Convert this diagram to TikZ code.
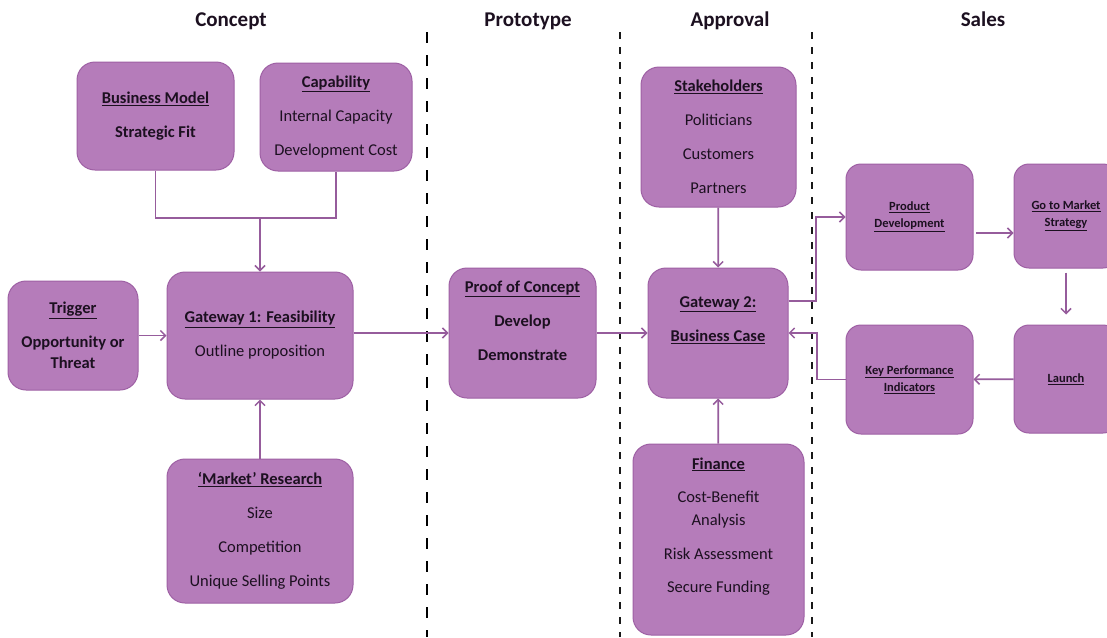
\documentclass[tikz,border=0pt]{standalone}
\usepackage{fontspec}
\setmainfont{Carlito}
\usetikzlibrary{arrows.meta,calc}
\definecolor{boxfill}{RGB}{181,124,186}
\definecolor{boxline}{RGB}{158,96,164}
\definecolor{conn}{RGB}{150,92,156}
\definecolor{txt}{RGB}{28,16,32}
\newcommand{\mainsz}{\fontsize{16.5}{23}\selectfont}
\newcommand{\smallsz}{\fontsize{12.5}{17}\selectfont}
\newcommand{\hd}[1]{\textbf{\underline{#1}}}
\tikzset{
  box/.style={draw=boxline, line width=1pt, fill=boxfill, rounded corners=18pt,
    align=center, text=txt, font=\mainsz, inner sep=0pt},
  sbox/.style={box, rounded corners=15pt, font=\smallsz},
  txtnode/.style={align=center, text=txt, font=\mainsz, inner sep=0pt},
  arr/.style={draw=conn, line width=1.8pt, -{Straight Barb[length=5pt,width=10pt,line width=1.5pt]}},
  conline/.style={draw=conn, line width=1.8pt},
  heading/.style={font=\fontsize{21}{25}\selectfont\bfseries, text=txt, inner sep=0pt, anchor=base},
  phase/.style={line width=2.6pt, dash pattern=on 11pt off 12pt, black},
  phasethin/.style={line width=1.8pt, dash pattern=on 7pt off 8pt, black!90}
}
\begin{document}
\begin{tikzpicture}[x=1pt,y=-1pt]
\useasboundingbox (0,0) rectangle (1107,637);
\clip (0,0) rectangle (1107,637);
\fill[white] (0,0) rectangle (1107,637);

% phase separators
\draw[phase] (427,32) -- (427,637);
\draw[phasethin] (620,32) -- (620,637);
\draw[phasethin] (812,32) -- (812,637);

% headings
\node[heading] (hconcept) at (231,27) {Concept};
\node[heading] (hproto) at (528,27) {Prototype};
\node[heading] (happroval) at (730,27) {Approval};
\node[heading] (hsales) at (983,27) {Sales};

% concept boxes
\node[box, minimum width=157, minimum height=108] (bm) at (155.5,116)
  {\hd{Business Model}\\[11pt]\textbf{Strategic Fit}};
\node[box, minimum width=152, minimum height=108] (cap) at (336,117)
  {\hd{Capability}\\[11pt]Internal Capacity\\[11pt]Development Cost};
\node[box, minimum width=130, minimum height=109] (trig) at (73,335.5)
  {\hd{Trigger}\\[11pt]\textbf{Opportunity or}\\[-2pt]\textbf{Threat}};
\node[box, minimum width=186, minimum height=127] (g1) at (260,335.5)
  {\hd{Gateway 1: Feasibility}\\[11pt]Outline proposition};
\node[box, minimum width=186, minimum height=144] (mr) at (260,531)
  {\hd{‘Market’ Research}\\[11pt]Size\\[11pt]Competition\\[11pt]Unique Selling Points};

% prototype
\node[box, minimum width=147, minimum height=130] (poc) at (522.5,333) {};
\node[txtnode] (poct) at (522.5,320.5)
  {\hd{Proof of Concept}\\[11pt]\textbf{Develop}\\[11pt]\textbf{Demonstrate}};

% approval
\node[box, minimum width=140, minimum height=130] (g2) at (718,333) {};
\node[txtnode] (g2t) at (718,320)
  {\hd{Gateway 2:}\\[11pt]\hd{Business Case}};
\node[box, minimum width=155, minimum height=140] (sh) at (718.5,137)
  {\hd{Stakeholders}\\[11pt]Politicians\\[11pt]Customers\\[11pt]Partners};
\node[box, minimum width=171, minimum height=191] (fin) at (718.5,539.5) {};
\node[txtnode] (fint) at (718.5,526.5)
  {\hd{Finance}\\[10.5pt]Cost-Benefit\\Analysis\\[10.5pt]Risk Assessment\\[10.5pt]Secure Funding};

% sales
\node[sbox, minimum width=127, minimum height=106] (pd) at (909.5,217)
  {\hd{Product}\\\hd{Development}};
\node[sbox, minimum width=104, minimum height=104] (gtm) at (1066,216)
  {\hd{Go to Market}\\\hd{Strategy}};
\node[sbox, minimum width=104, minimum height=108] (lau) at (1066,379)
  {\hd{Launch}};
\node[sbox, minimum width=127, minimum height=109] (kpi) at (909.5,379.5)
  {\hd{Key Performance}\\\hd{Indicators}};

% connectors
\coordinate (j1) at (260,218);
\draw[conline] (bm.south) |- (j1) -| (cap.south);
\draw[arr] (j1) -- (g1.north);
\draw[arr] (trig) -- (g1);
\draw[arr] (g1.east |- poc.west) -- (poc.west);
\draw[arr] (mr) -- (g1);
\draw[arr] (poc) -- (g2);
\draw[arr] (sh) -- (g2);
\draw[arr] (fin) -- (g2);
\coordinate (j2) at (816,301);
\draw[arr] (g2.east |- j2) -- (j2) |- (pd.west);
\coordinate (j4) at (817,379.5);
\draw[arr] (kpi.west) -- (j4) |- (g2.east);
\coordinate (a1) at (976,233);
\draw[arr] (a1) -- (gtm.west |- a1);
\draw[arr, shorten <=4pt, shorten >=10pt] (gtm.south) -- (lau.north);
\draw[arr] (lau) -- (kpi);
\end{tikzpicture}
\end{document}
